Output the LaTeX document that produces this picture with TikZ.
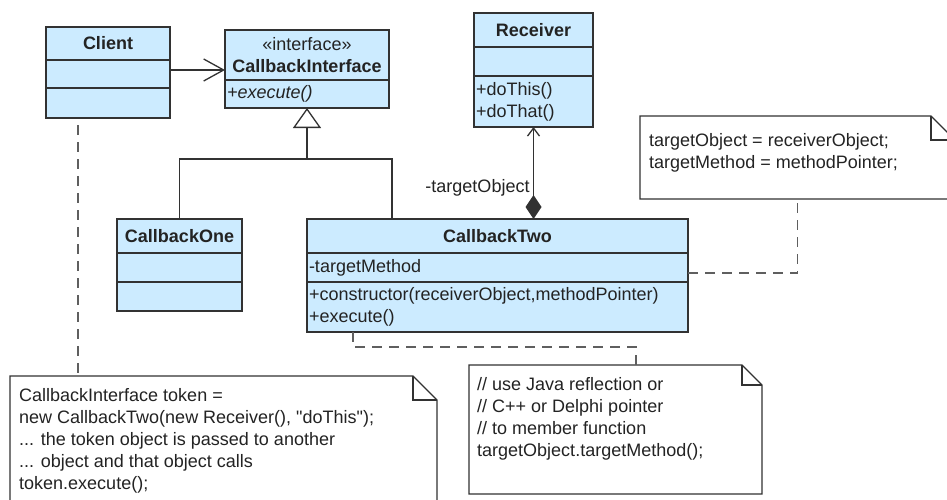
\documentclass[tikz,border=0pt]{standalone}
\usepackage{fontspec}
\setmainfont{Liberation Sans}
\usetikzlibrary{arrows.meta}

\definecolor{umlfill}{RGB}{204,235,255}
\definecolor{umlline}{RGB}{50,50,50}
\definecolor{umltext}{RGB}{35,35,35}
\definecolor{linkgray}{RGB}{95,95,95}
\newcommand{\umlfont}{\fontsize{18}{22}\selectfont}

\tikzset{
  compart/.style={draw=umlline, fill=umlfill, line width=1.3pt, anchor=north west,
    inner sep=2pt, outer sep=0pt, font=\umlfont, text=umltext},
  headpart/.style={compart, text width=#1, align=center, font=\umlfont\bfseries},
  bodypart/.style={compart, text width=#1, align=left},
  notebox/.style={anchor=north west, inner sep=0pt, outer sep=0pt, fill=white},
  notetext/.style={anchor=north west, inner sep=0pt, align=left, font=\umlfont, text=umltext},
  noteline/.style={draw=umlline, line width=1.3pt, line join=miter},
  notelink/.style={draw=linkgray, line width=1.8pt, dash pattern=on 10pt off 7pt},
  umlline/.style={draw=umlline, line width=1.3pt},
  assoc/.style={umlline, -{Straight Barb[length=20pt,width=22pt]}},
  gen/.style={umlline, -{Triangle[open,length=20pt,width=28pt,fill=white]}},
  comp/.style={umlline, {Diamond[length=24pt,width=16pt]}-{Straight Barb[length=8pt,width=12pt]}}
}

\begin{document}
\begin{tikzpicture}[x=1pt, y=-1pt]
\path[use as bounding box, fill=white] (0,0) rectangle (947,499);

% Client
\node[headpart=120, minimum height=33] (clienthead) at (46,27) {Client};
\node[bodypart=120, minimum height=28] (clientattr) at (clienthead.south west) {};
\node[bodypart=120, minimum height=30] (clientops) at (clientattr.south west) {};

% CallbackInterface
\node[headpart=160, minimum height=50] (ifhead) at (225,30) {{\mdseries «interface»}\\CallbackInterface};
\node[bodypart=160, minimum height=28] (ifops) at (ifhead.south west) {\itshape +execute()};

% Receiver
\node[headpart=115, minimum height=34] (rechead) at (474,13) {Receiver};
\node[bodypart=115, minimum height=29] (recattr) at (rechead.south west) {};
\node[bodypart=115, minimum height=51] (recops) at (recattr.south west) {+doThis()\\+doThat()};

% CallbackOne
\node[headpart=121, minimum height=34] (onehead) at (117,219) {CallbackOne};
\node[bodypart=121, minimum height=29] (oneattr) at (onehead.south west) {};
\node[bodypart=121, minimum height=29] (oneops) at (oneattr.south west) {};

% CallbackTwo
\node[headpart=377, minimum height=34] (twohead) at (307,219) {CallbackTwo};
\node[bodypart=377, minimum height=29] (twoattr) at (twohead.south west) {-targetMethod};
\node[bodypart=377, minimum height=50] (twoops) at (twoattr.south west)
  {+constructor(receiverObject,methodPointer)\\+execute()};

% notes
\node[notebox, minimum width=315, minimum height=83] (note1) at (640,116) {};
\node[notebox, minimum width=293, minimum height=129] (note2) at (469,365) {};
\node[notebox, minimum width=427, minimum height=134] (note3) at (10,376) {};
\foreach \nt/\fold in {note1/24, note2/20, note3/24} {
  \draw[noteline] (\nt.north west) -- ([xshift=-\fold]\nt.north east)
    -- ([yshift=-\fold]\nt.north east) -- (\nt.south east) -- (\nt.south west) -- cycle;
  \draw[noteline] ([xshift=-\fold]\nt.north east) |- ([yshift=-\fold]\nt.north east);
}
\node[notetext] (note1text) at ([xshift=9,yshift=-17]note1.north west)
  {targetObject = receiverObject;\\targetMethod = methodPointer;};
\node[notetext] (note2text) at ([xshift=8,yshift=-12]note2.north west)
  {// use Java reflection or\\// C++ or Delphi pointer\\// to member function\\targetObject.targetMethod();};
\node[notetext] (note3text) at ([xshift=9,yshift=-12]note3.north west)
  {CallbackInterface token =\\new CallbackTwo(new Receiver(), \textquotedbl doThis\textquotedbl);\\... the token object is passed to another\\... object and that object calls\\token.execute();};

% association Client -> CallbackInterface
\coordinate (usesrc) at ([yshift=4]clientattr.east);
\draw[assoc] (usesrc) -- (usesrc -| ifhead.west);

% generalization
\coordinate (junction) at (ifops.south |- 0,159);
\coordinate (twotop) at ([xshift=85]twohead.north west);
\draw[umlline] (onehead.north) |- (twotop |- junction) -- (twotop);
\draw[gen] (junction) -- (ifops.south);

% composition CallbackTwo -> Receiver
\draw[comp] (twohead.north -| recops.south) -- node[pos=0.34, left, font=\umlfont, text=umltext] {-targetObject} (recops.south);

% note links
\coordinate (clientlink) at ([yshift=-7,xshift=32]clientops.south west);
\draw[notelink] (clientlink) -- (clientlink |- note3.north);
\coordinate (twolink) at ([xshift=46]twoops.south west);
\coordinate (note2link) at ([xshift=167]note2.north west);
\draw[notelink] (twolink) |- ([yshift=18]note2link) -- (note2link);
\draw[notelink] ([yshift=-5.5]twoattr.east) -| (note1.south);
\end{tikzpicture}
\end{document}
